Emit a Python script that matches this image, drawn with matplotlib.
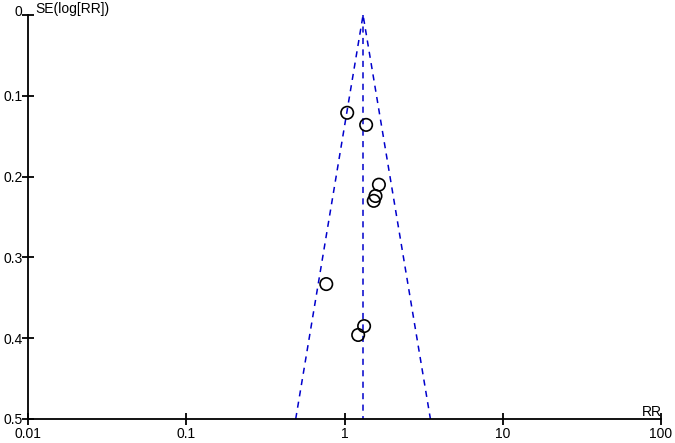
import numpy as np
import matplotlib
matplotlib.use("Agg")
import matplotlib.pyplot as plt
from matplotlib.transforms import ScaledTranslation

plt.rcParams['font.family'] = ['Liberation Sans', 'DejaVu Sans']

# Study data (RR, SE(log RR))
rr = [1.04, 1.37, 1.65, 1.57, 1.53, 0.767, 1.33, 1.22]
se = [0.121, 0.136, 0.210, 0.224, 0.230, 0.333, 0.385, 0.396]
pooled_rr = 1.31
se_max = 0.5

x_ticks = [0.01, 0.1, 1, 10, 100]
x_tick_labels = ["0.01", "0.1", "1", "10", "100"]
y_ticks = [0, 0.1, 0.2, 0.3, 0.4, 0.5]
y_tick_labels = ["0", "0.1", "0.2", "0.3", "0.4", "0.5"]

W, H = 675, 443
fig = plt.figure(figsize=(W/100, H/100), dpi=100)
ax = fig.add_axes([28/W, 1-419/H, (661-28)/W, (419-15)/H])

blue = '#0000CC'
lo = pooled_rr * np.exp(-1.96 * se_max)
hi = pooled_rr * np.exp(1.96 * se_max)
ax.plot([lo, pooled_rr, hi], [se_max, 0, se_max], color=blue, lw=1.1,
        linestyle=(0, (4, 3.5)), clip_on=False)
ax.plot([pooled_rr, pooled_rr], [0, se_max], color=blue, lw=1.1,
        linestyle=(0, (4, 3.5)), clip_on=False)

ax.scatter(rr, se, s=80, facecolors='none', edgecolors='black', linewidths=1.2, zorder=3)

ax.set_xscale('log')
ax.set_xlim(0.01, 100)
ax.set_ylim(0.5, 0)
ax.set_xticks(x_ticks)
ax.set_xticklabels(x_tick_labels)
ax.minorticks_off()
ax.set_yticks(y_ticks)
ax.set_yticklabels(y_tick_labels)

for s in ['top', 'right']:
    ax.spines[s].set_visible(False)
for s in ['left', 'bottom']:
    ax.spines[s].set_linewidth(1.3)
ax.tick_params(axis='both', direction='inout', length=8, width=1.3, labelsize=10)
ax.tick_params(axis='x', pad=2)
ax.tick_params(axis='y', pad=0)

# end labels offset like the reference
ylabels = ax.get_yticklabels()
ylabels[0].set_transform(ylabels[0].get_transform() + ScaledTranslation(0, 5/100, fig.dpi_scale_trans))

fig.text(35/W, 1-13/H, "SE(log[RR])", fontsize=10, va='baseline', ha='left')
fig.text(662/W, 1-416/H, "RR", fontsize=10, va='baseline', ha='right')

fig.savefig("out.png", dpi=100)
